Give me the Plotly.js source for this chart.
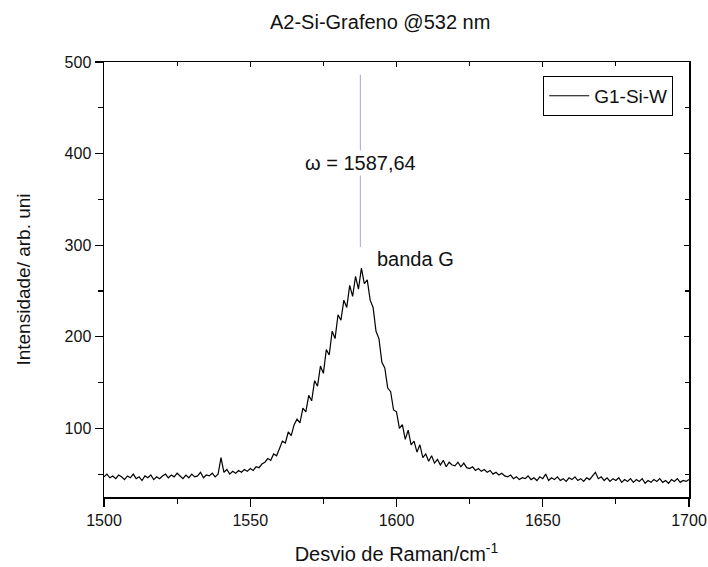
<!DOCTYPE html>
<html>
<head>
<meta charset="utf-8">
<script src="https://cdn.plot.ly/plotly-3.0.1.min.js"></script>
<style>html,body{margin:0;padding:0;background:#fff;}#chart{width:708px;height:567px;}</style>
</head>
<body>
<div id="chart"></div>
<script>
// Raman shift grid: start and step (cm^-1)
const shiftStart = 1500;
const shiftStep = 1;
// Intensity (arb. units) for 1500..1700 cm^-1
const intensity = [
  47,50,46,48,45,49,47,44,48,46,
  50,45,47,43,48,46,49,44,47,45,
  48,50,46,49,47,51,48,45,49,46,
  50,47,48,52,46,49,48,51,47,50,
  68,52,55,50,53,51,54,52,55,53,
  56,54,58,57,61,63,67,65,72,70,
  78,86,84,96,92,104,110,106,122,118,
  136,130,152,146,168,160,186,180,206,198,
  224,218,240,232,256,244,266,252,275,258,
  262,240,232,206,198,172,166,144,140,120,
  118,100,104,88,98,82,86,74,82,68,
  72,64,70,62,66,60,65,58,63,60,
  59,63,58,62,57,56,58,54,56,53,
  55,52,54,50,52,49,51,48,47,49,
  45,47,44,46,45,48,44,46,43,47,
  45,50,43,46,44,47,43,45,42,46,
  44,47,43,45,42,46,44,48,52,45,
  47,43,46,42,45,43,46,41,44,42,
  45,41,44,42,45,40,43,41,44,42,
  45,41,43,40,44,42,45,41,43,42,44
];
const seriesName = "G1-Si-W";
// Peak marker line and labels
const peakPos = 1587.64;
const peakLineX = [peakPos, peakPos];
const peakLineY = [298, 486];
const peakLabel = "\u03c9 = 1587,64";
const peakLabelY = 390;
const bandLabel = "banda G";
const bandLabelX = 1592.5;
const bandLabelY = 285;
const xRange = [1500, 1700];
const yRange = [25, 500];
const chartTitle = "A2-Si-Grafeno @532 nm";
const xTitle = "Desvio de Raman/cm<sup>-1</sup>";
const yTitle = "Intensidade/ arb. uni";

const FONT = "Liberation Sans, Arial, sans-serif";

const traces = [
  {
    type: "scatter", mode: "lines", name: seriesName,
    x0: shiftStart, dx: shiftStep, y: intensity,
    line: {color: "#000", width: 1.2}, hoverinfo: "skip"
  },
  {
    type: "scatter", mode: "lines", showlegend: false,
    x: peakLineX, y: peakLineY,
    line: {color: "#a4a4e4", width: 1}, hoverinfo: "skip"
  },
  {
    type: "scatter", mode: "lines", showlegend: false,
    x0: shiftStart, dx: shiftStep, y: intensity,
    xaxis: "x2", yaxis: "y2",
    line: {color: "rgba(0,0,0,0)", width: 0}, hoverinfo: "skip"
  }
];

const baseAxis = {
  showgrid: false, zeroline: false, showline: true,
  linecolor: "#000", linewidth: 1.5,
  tickcolor: "#000", tickwidth: 1.2,
  tickfont: {family: FONT, size: 16, color: "#111"}
};

const layout = {
  width: 708, height: 567,
  margin: {l: 104, r: 19, t: 62, b: 70},
  paper_bgcolor: "#fff", plot_bgcolor: "#fff",
  font: {family: FONT, color: "#111"},
  title: {
    text: chartTitle, font: {family: FONT, size: 20, color: "#111"},
    xref: "container", x: 0.537, xanchor: "center",
    yref: "container", y: 0.962, yanchor: "middle"
  },
  showlegend: true,
  legend: {
    x: 0.973, xanchor: "right", y: 0.968, yanchor: "top",
    bgcolor: "#fff", bordercolor: "#000", borderwidth: 1,
    font: {family: FONT, size: 19, color: "#111"},
    tracegroupgap: 0, itemwidth: 40
  },
  xaxis: Object.assign({}, baseAxis, {
    range: xRange, dtick: 50, tick0: 1500,
    ticks: "outside", ticklen: 8,
    minor: {dtick: 25, ticks: "outside", ticklen: 5, tickcolor: "#000", tickwidth: 1.2},
    title: {text: xTitle, font: {family: FONT, size: 20, color: "#111"}, standoff: 19}
  }),
  yaxis: Object.assign({}, baseAxis, {
    range: yRange, dtick: 100, tick0: 0,
    ticks: "outside", ticklen: 8,
    minor: {dtick: 50, ticks: "outside", ticklen: 5, tickcolor: "#000", tickwidth: 1.2},
    title: {text: yTitle, font: {family: FONT, size: 19, color: "#111"}, standoff: 29}
  }),
  xaxis2: Object.assign({}, baseAxis, {
    overlaying: "x", side: "top", anchor: "y2", range: xRange,
    dtick: 50, tick0: 1500, ticks: "inside", ticklen: 5, showticklabels: false,
    minor: {dtick: 25, ticks: "inside", ticklen: 4, tickcolor: "#000", tickwidth: 1.2}
  }),
  yaxis2: Object.assign({}, baseAxis, {
    overlaying: "y", side: "right", anchor: "x2", range: yRange,
    dtick: 100, tick0: 0, ticks: "inside", ticklen: 5, showticklabels: false,
    minor: {dtick: 50, ticks: "inside", ticklen: 4, tickcolor: "#000", tickwidth: 1.2}
  }),
  annotations: [
    {
      x: peakPos, y: peakLabelY, xref: "x", yref: "y",
      text: peakLabel, showarrow: false, bgcolor: "#fff",
      font: {family: FONT, size: 20, color: "#111"},
      xanchor: "center", yanchor: "middle"
    },
    {
      x: bandLabelX, y: bandLabelY, xref: "x", yref: "y",
      text: bandLabel, showarrow: false,
      font: {family: FONT, size: 20, color: "#111"},
      xanchor: "left", yanchor: "middle"
    }
  ]
};

Plotly.newPlot("chart", traces, layout, {displayModeBar: false, staticPlot: true});
</script>
</body>
</html>
